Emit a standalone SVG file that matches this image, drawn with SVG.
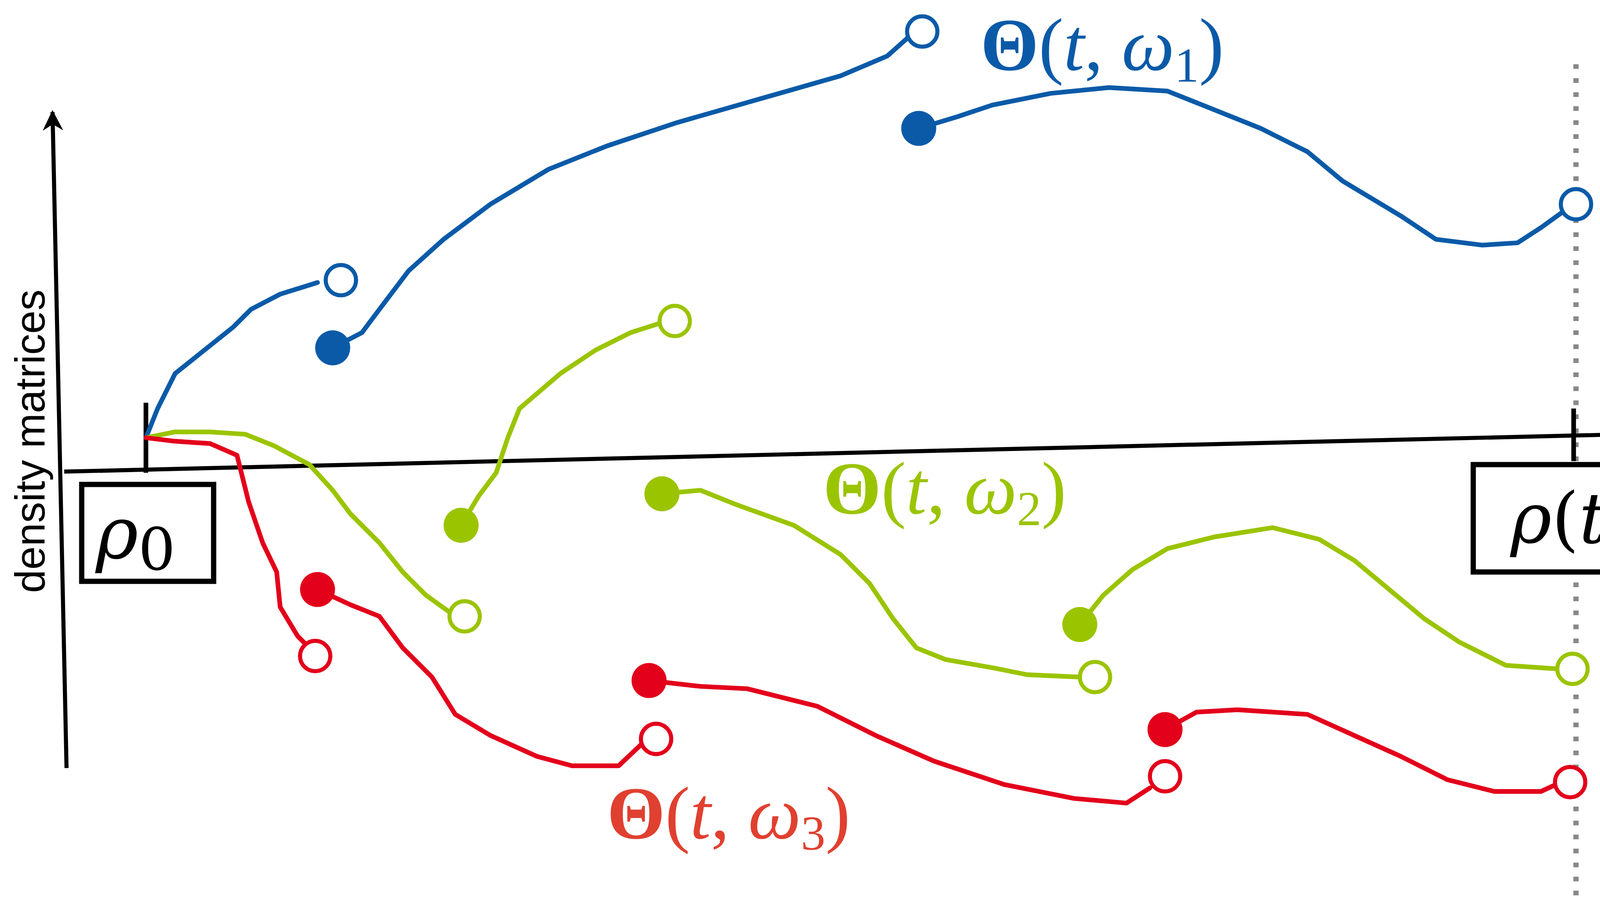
<svg xmlns="http://www.w3.org/2000/svg" width="4686" height="2305" viewBox="0 0 1568 771" preserveAspectRatio="none">
<defs>
<marker id="ah" viewBox="0 0 10 10" refX="9" refY="5" markerWidth="8" markerHeight="5" orient="auto" markerUnits="strokeWidth"><path d="M0,0 L10,5 L0,10 L3,5 Z" fill="#000"/></marker>
<style>
.c{fill:none;stroke-width:4;stroke-linejoin:round;stroke-linecap:round}
.b{stroke:#0a5aa8}.g{stroke:#9bc400}.r{stroke:#e3001b}
.ob{fill:#fff;stroke:#0a5aa8;stroke-width:3.5}.og{fill:#fff;stroke:#9bc400;stroke-width:3.5}.or{fill:#fff;stroke:#e3001b;stroke-width:3.5}
.box{fill:#fff;stroke:#000;stroke-width:4.5}
.m{font-family:"DejaVu Serif",serif;font-style:italic}
.lab{font-family:"Liberation Serif","DejaVu Serif",serif;font-size:64px}
</style>
</defs>
<rect width="1568" height="771" fill="#fff"/>
<g id="axes">
<line x1="1350" y1="55" x2="1350" y2="771" stroke="#888" stroke-width="4.5" stroke-dasharray="4,8"/>
<line x1="1372" y1="240" x2="1465" y2="238" stroke="#888" stroke-width="4" stroke-dasharray="14,8"/>
<text x="1468" y="258" font-family="DejaVu Serif,serif" font-style="italic" font-size="60" fill="#888">𝒰</text>
<line x1="57" y1="658" x2="45" y2="96" stroke="#000" stroke-width="3.5" marker-end="url(#ah)"/>
<line x1="55" y1="404" x2="1562" y2="368" stroke="#000" stroke-width="3.5" marker-end="url(#ah)"/>
<text transform="translate(38,378) rotate(-90)" text-anchor="middle" font-family="Liberation Sans,Arial,sans-serif" font-size="36">density matrices</text>
<text x="1555" y="335" text-anchor="end" font-family="Liberation Sans,Arial,sans-serif" font-size="36">time t</text>
<line x1="125" y1="345" x2="125" y2="405" stroke="#000" stroke-width="4"/>
<line x1="1348" y1="350" x2="1348" y2="395" stroke="#000" stroke-width="4"/>
</g>
<g id="connectors">
<path class="c b" d="M125,375 L135,350 L150,320 L175,300 L200,280 L215,265 L240,252 L272,242"/>
<path class="c b" d="M285,298 L310,285 L325,265 L350,232 L380,205 L420,175 L470,145 L520,125 L580,105 L650,85 L720,65 L760,48 L778,32"/>
<path class="c b" d="M787,110 L820,100 L850,90 L900,80 L950,75 L1000,78 L1030,90 L1080,110 L1120,130 L1150,155 L1200,185 L1230,205 L1270,210 L1300,208 L1320,195 L1338,182"/>
<path class="c g" d="M125,375 L150,370 L180,370 L210,372 L235,382 L265,398 L285,420 L300,440 L325,465 L345,490 L365,510 L386,525"/>
<path class="c g" d="M395,450 L410,425 L425,405 L435,375 L445,350 L480,320 L510,300 L540,285 L565,277"/>
<path class="c g" d="M567,423 L600,420 L630,432 L680,450 L720,475 L745,500 L765,530 L785,555 L810,565 L850,572 L880,578 L925,580"/>
<path class="c g" d="M925,535 L945,510 L970,488 L1000,470 L1040,460 L1090,452 L1130,462 L1160,480 L1190,505 L1220,530 L1250,550 L1290,570 L1334,573"/>
<path class="c r" d="M125,375 L150,378 L180,380 L203,390 L213,430 L225,465 L237,490 L240,520 L255,545 L262,552"/>
<path class="c r" d="M272,505 L300,518 L325,528 L345,555 L370,580 L390,612 L420,630 L460,648 L490,656 L530,656 L549,638"/>
<path class="c r" d="M556,583 L600,588 L640,590 L700,605 L750,630 L800,652 L860,672 L920,684 L965,688 L985,675"/>
<path class="c r" d="M998,625 L1025,610 L1060,608 L1120,612 L1160,630 L1200,648 L1240,668 L1280,678 L1320,678 L1333,672"/>
</g>
<g id="dots">
<circle cx="292" cy="240" r="13" class="ob"/><circle cx="285" cy="298" r="15" fill="#0a5aa8"/>
<circle cx="790" cy="27" r="13" class="ob"/><circle cx="787" cy="110" r="15" fill="#0a5aa8"/>
<circle cx="1350" cy="175" r="13" class="ob"/>
<circle cx="398" cy="528" r="13" class="og"/><circle cx="395" cy="450" r="15" fill="#9bc400"/>
<circle cx="578" cy="275" r="13" class="og"/><circle cx="567" cy="423" r="15" fill="#9bc400"/>
<circle cx="938" cy="580" r="13" class="og"/><circle cx="925" cy="535" r="15" fill="#9bc400"/>
<circle cx="1347" cy="573" r="13" class="og"/>
<circle cx="270" cy="562" r="13" class="or"/><circle cx="272" cy="505" r="15" fill="#e3001b"/>
<circle cx="562" cy="633" r="13" class="or"/><circle cx="556" cy="583" r="15" fill="#e3001b"/>
<circle cx="998" cy="665" r="13" class="or"/><circle cx="998" cy="625" r="15" fill="#e3001b"/>
<circle cx="1345" cy="670" r="13" class="or"/>
</g>
<g id="rho0"><rect x="70" y="415" width="113" height="83" class="box"/>
<text x="82" y="478" class="m" font-size="62">ρ<tspan font-style="normal" font-size="50" dy="10">0</tspan></text></g>
<g id="rhot"><rect x="1262" y="398" width="170" height="92" class="box"/>
<text x="1347" y="465" text-anchor="middle" class="m" font-size="60">ρ<tspan font-style="normal">(</tspan>t<tspan font-style="normal">)</tspan></text></g>
<g id="labels">
<text x="840" y="60" class="lab" fill="#0a5aa8"><tspan font-weight="bold">Θ</tspan>(<tspan font-style="italic">t</tspan>, <tspan font-style="italic">ω</tspan><tspan font-size="42" dy="10">1</tspan><tspan dy="-10">)</tspan></text>
<text x="705" y="440" class="lab" fill="#9bc400"><tspan font-weight="bold">Θ</tspan>(<tspan font-style="italic">t</tspan>, <tspan font-style="italic">ω</tspan><tspan font-size="42" dy="10">2</tspan><tspan dy="-10">)</tspan></text>
<text x="520" y="718" class="lab" fill="#e04030"><tspan font-weight="bold">Θ</tspan>(<tspan font-style="italic">t</tspan>, <tspan font-style="italic">ω</tspan><tspan font-size="42" dy="10">3</tspan><tspan dy="-10">)</tspan></text>
</g>
</svg>
